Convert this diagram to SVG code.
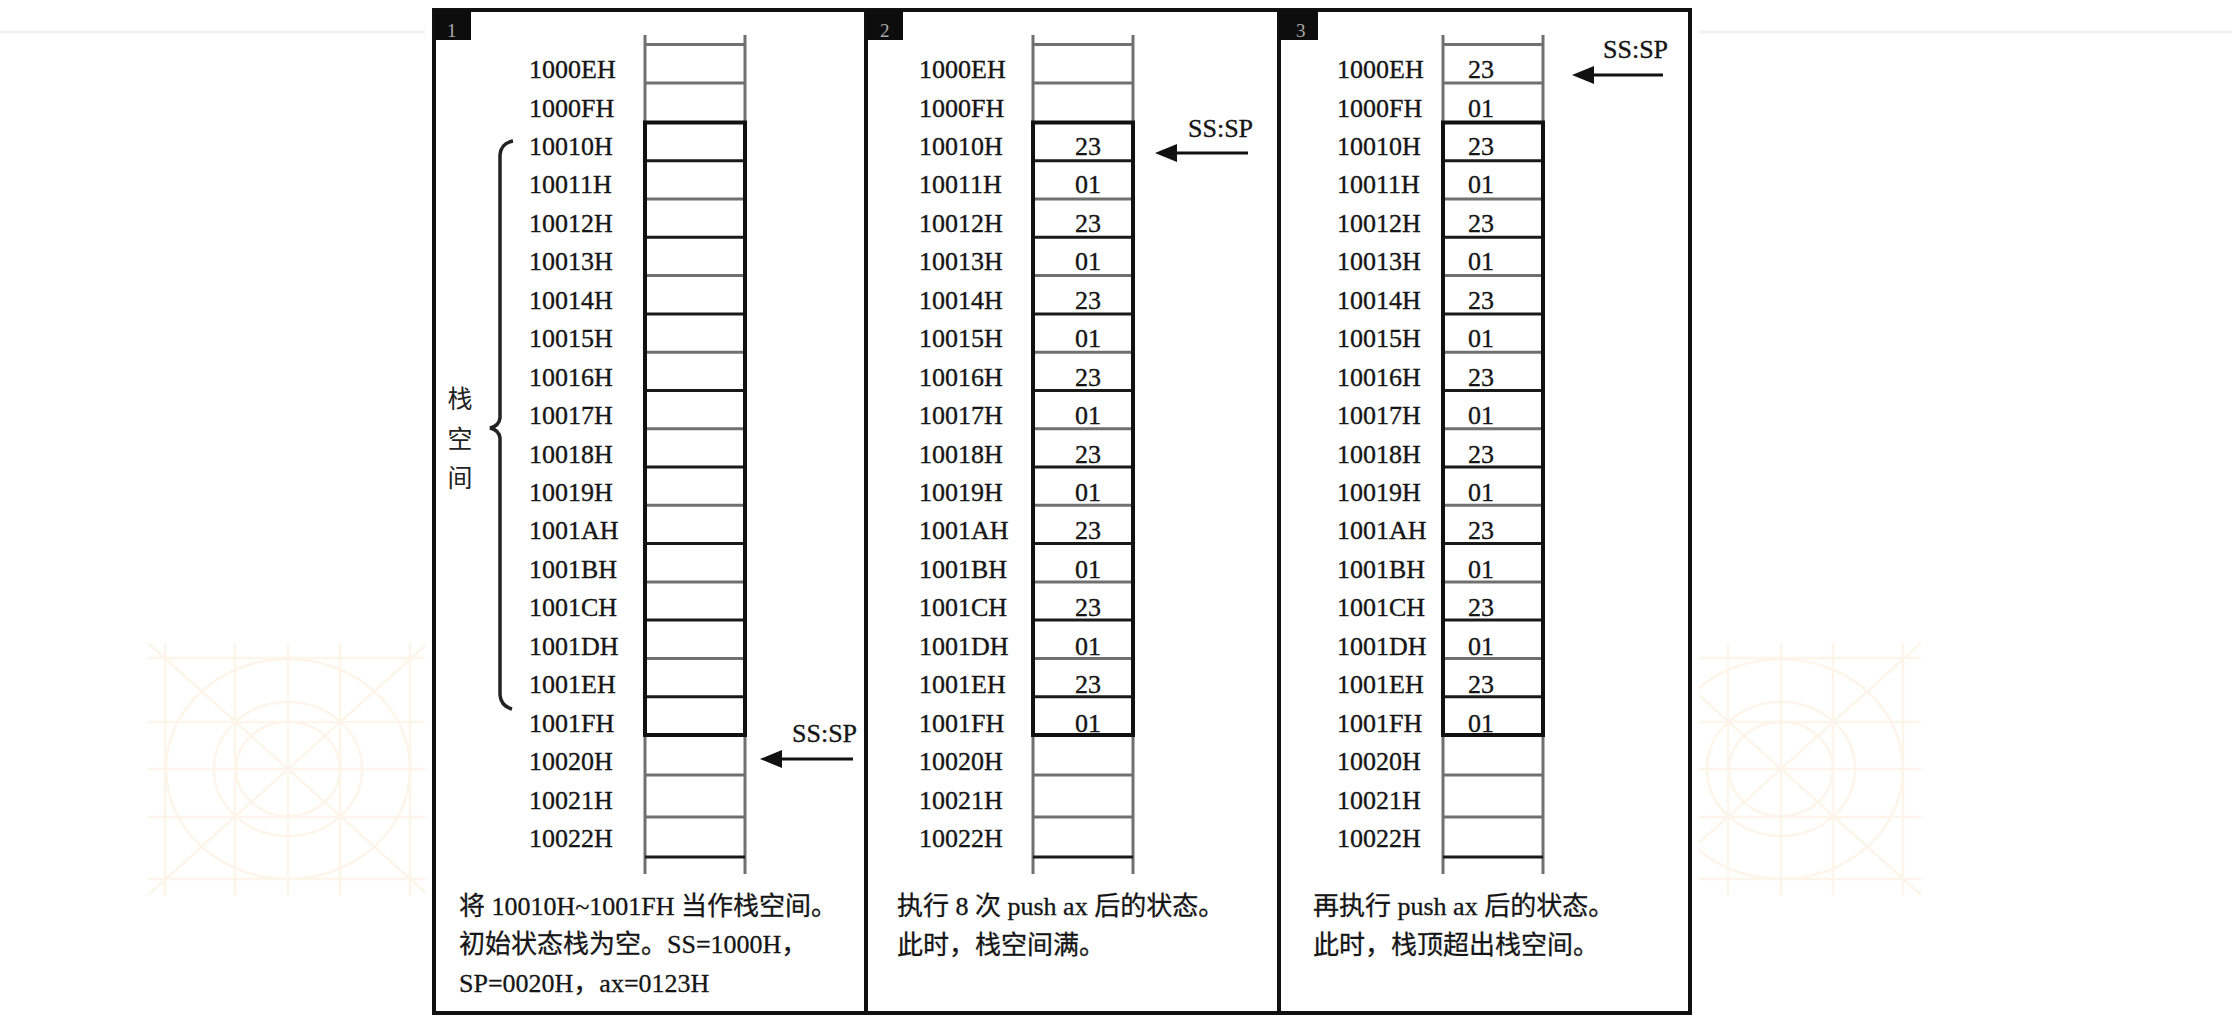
<svg xmlns="http://www.w3.org/2000/svg" xmlns:xlink="http://www.w3.org/1999/xlink" width="2232" height="1022" viewBox="0 0 2232 1022">
<style>
  .lbl{font-family:"Liberation Serif","Noto Sans CJK SC",serif;font-size:26px;fill:#151515;stroke:#151515;stroke-width:0.35}
  .val{font-family:"Liberation Serif",serif;font-size:26px;fill:#151515;stroke:#151515;stroke-width:0.35;text-anchor:middle}
  .cap{font-family:"Liberation Serif","Noto Sans CJK SC",serif;font-size:26px;fill:#151515;stroke:#151515;stroke-width:0.3}
  .vcap{font-family:"Noto Sans CJK SC",sans-serif;font-size:25px;fill:#222;text-anchor:middle;dominant-baseline:central}
  .tabn{font-family:"Liberation Serif",serif;font-size:19px;fill:#aaa}
  .frame{fill:none;stroke:#111;stroke-width:4}
  .tab{fill:#0d0d0d}
  .gl{stroke:#707070;stroke-width:3;fill:none}
  .bl{stroke:#1a1a1a;stroke-width:3;fill:none}
  .box{stroke:#111;stroke-width:4;fill:none}
  .arr{stroke:#111;stroke-width:3;fill:none}
  .wm{stroke:#fdf5ea;stroke-width:2.5;fill:none}
</style>
<defs>
  <marker id="ah" markerUnits="userSpaceOnUse" markerWidth="24" markerHeight="20" refX="10" refY="9" orient="auto">
    <path d="M0,0 L22,9 L0,18 Z" fill="#111"/>
  </marker>
  <g id="wmark">
    <path class="wm" d="M165,643V895M235,643V895M288,643V895M340,643V895M410,643V895M148,658H428M148,722H428M148,769H428M148,817H428M148,879H428M148,643L428,895M428,643L148,895"/>
    <ellipse class="wm" cx="288" cy="769" rx="122" ry="110"/>
    <ellipse class="wm" cx="288" cy="769" rx="74" ry="67"/>
    <ellipse class="wm" cx="288" cy="769" rx="52" ry="47"/>
  </g>
  <g id="column">
    <path class="gl" d="M0,35V874M100,35V874"/>
    <path class="gl" d="M0,44.5H100M0,83H100M0,199.1H100M0,275.6H100M0,352.2H100M0,428.7H100M0,505.3H100M0,581.9H100M0,658.4H100M0,775H100M0,817H100"/>
    <path class="bl" d="M0,857H100M0,160.8H100M0,237.3H100M0,313.9H100M0,390.5H100M0,467H100M0,543.6H100M0,620.1H100M0,696.7H100"/>
    <rect class="box" x="0" y="122.5" width="100" height="612.5"/>
  </g>
  <g id="labels">
    <text class="lbl" y="78">1000EH</text>
    <text class="lbl" y="116.5">1000FH</text>
    <text class="lbl" y="154.9">10010H</text>
    <text class="lbl" y="193.4">10011H</text>
    <text class="lbl" y="231.8">10012H</text>
    <text class="lbl" y="270.3">10013H</text>
    <text class="lbl" y="308.7">10014H</text>
    <text class="lbl" y="347.2">10015H</text>
    <text class="lbl" y="385.6">10016H</text>
    <text class="lbl" y="424.1">10017H</text>
    <text class="lbl" y="462.5">10018H</text>
    <text class="lbl" y="501">10019H</text>
    <text class="lbl" y="539.4">1001AH</text>
    <text class="lbl" y="577.9">1001BH</text>
    <text class="lbl" y="616.3">1001CH</text>
    <text class="lbl" y="654.8">1001DH</text>
    <text class="lbl" y="693.2">1001EH</text>
    <text class="lbl" y="731.7">1001FH</text>
    <text class="lbl" y="770.1">10020H</text>
    <text class="lbl" y="808.6">10021H</text>
    <text class="lbl" y="847">10022H</text>
  </g>
  <g id="stackvals">
    <text class="val" y="154.9">23</text>
    <text class="val" y="193.4">01</text>
    <text class="val" y="231.8">23</text>
    <text class="val" y="270.3">01</text>
    <text class="val" y="308.7">23</text>
    <text class="val" y="347.2">01</text>
    <text class="val" y="385.6">23</text>
    <text class="val" y="424.1">01</text>
    <text class="val" y="462.5">23</text>
    <text class="val" y="501">01</text>
    <text class="val" y="539.4">23</text>
    <text class="val" y="577.9">01</text>
    <text class="val" y="616.3">23</text>
    <text class="val" y="654.8">01</text>
    <text class="val" y="693.2">23</text>
    <text class="val" y="731.7">01</text>
  </g>
</defs>

<rect x="0" y="0" width="2232" height="1022" fill="#fff"/>
<g id="background">
  <line x1="0" y1="32" x2="2232" y2="32" stroke="#f1f1f1" stroke-width="3"/>
  <use xlink:href="#wmark"/>
  <use xlink:href="#wmark" x="1493"/>
  <rect x="425" y="0" width="1274" height="1022" fill="#fff"/>
</g>

<g id="frame">
  <rect class="frame" x="434" y="10" width="1256" height="1003"/>
  <line class="frame" x1="866" y1="10" x2="866" y2="1013"/>
  <line class="frame" x1="1279" y1="10" x2="1279" y2="1013"/>
</g>

<g id="panel1">
  <rect class="tab" x="434" y="10" width="37" height="30"/>
  <text class="tabn" x="447" y="37">1</text>
  <use xlink:href="#column" x="645"/>
  <use xlink:href="#labels" x="529"/>
  <path d="M513,141 Q501,143 500,155 L500,418 Q499,426 490,428 Q499,430 500,438 L500,695 Q501,706 512,709" fill="none" stroke="#222" stroke-width="3.5"/>
  <text class="vcap" x="460" y="397">栈</text>
  <text class="vcap" x="460" y="437">空</text>
  <text class="vcap" x="460" y="476">间</text>
  <text class="lbl" x="792" y="742">SS:SP</text>
  <text class="cap" x="459" y="915">将 10010H~1001FH 当作栈空间。</text>
  <text class="cap" x="459" y="953">初始状态栈为空。SS=1000H，</text>
  <text class="cap" x="459" y="992">SP=0020H，ax=0123H</text>
</g>

<g id="panel2">
  <rect class="tab" x="866" y="10" width="37" height="30"/>
  <text class="tabn" x="880" y="37">2</text>
  <use xlink:href="#column" x="1033"/>
  <use xlink:href="#labels" x="919"/>
  <use xlink:href="#stackvals" x="1088"/>
  <text class="lbl" x="1188" y="137">SS:SP</text>
  <text class="cap" x="897" y="915">执行 8 次 push ax 后的状态。</text>
  <text class="cap" x="897" y="954">此时，栈空间满。</text>
</g>

<g id="panel3">
  <rect class="tab" x="1279" y="10" width="39" height="30"/>
  <text class="tabn" x="1296" y="37">3</text>
  <use xlink:href="#column" x="1443"/>
  <use xlink:href="#labels" x="1337"/>
  <text class="val" x="1481" y="78">23</text>
  <text class="val" x="1481" y="116.5">01</text>
  <use xlink:href="#stackvals" x="1481"/>
  <text class="lbl" x="1603" y="58">SS:SP</text>
  <text class="cap" x="1313" y="915">再执行 push ax 后的状态。</text>
  <text class="cap" x="1313" y="954">此时，栈顶超出栈空间。</text>
</g>

<g id="connectors">
  <line class="arr" x1="853" y1="759" x2="772" y2="759" marker-end="url(#ah)"/>
  <line class="arr" x1="1248" y1="153" x2="1167" y2="153" marker-end="url(#ah)"/>
  <line class="arr" x1="1663" y1="75" x2="1584" y2="75" marker-end="url(#ah)"/>
</g>
</svg>
